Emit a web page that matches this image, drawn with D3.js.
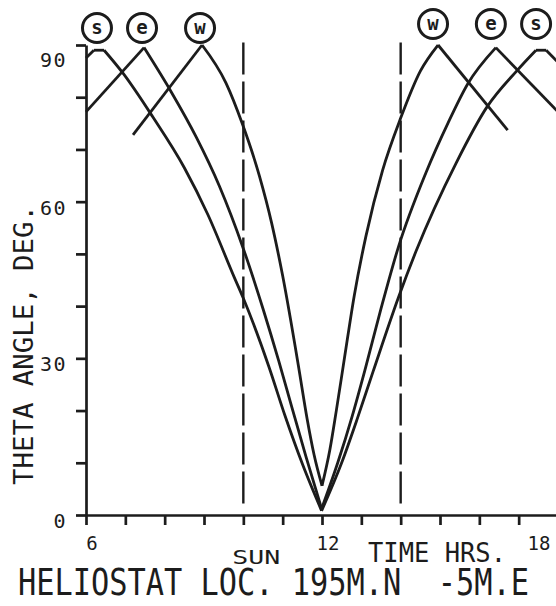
<!DOCTYPE html>
<html>
<head>
<meta charset="utf-8">
<script src="https://cdn.jsdelivr.net/npm/d3@7"></script>
<style>
  body { margin: 0; background: #ffffff; }
  svg { display: block; }
  text { font-family: "DejaVu Sans Mono", "Liberation Mono", monospace; fill: #1c1c1c; white-space: pre; }
</style>
</head>
<body>
<svg id="chart" width="556" height="606"></svg>
<script>
// Heliostat incidence angle (deg) against solar time (hours), [hour, theta]
const summer = [
  [6.0, 87.5], [6.2, 89], [6.46, 89], [6.94, 84.6], [7.70, 76.2], [8.5, 66.5],
  [9.10, 57.5], [9.77, 45.5], [10.0, 41.5], [10.65, 28.4], [11.06, 19], [11.5, 9.8],
  [11.99, 0.8], [12.5, 10], [12.9, 18.5], [13.3, 27.5], [13.95, 41.8], [14.39, 50.5],
  [15.41, 67.4], [16.2, 78.2], [16.97, 85.2], [17.44, 89], [17.70, 89], [18.0, 86.7]
];
const equinox = [
  [6.0, 77.2], [7.475, 89.5], [8.16, 81.1], [8.80, 72.4], [9.39, 63], [10.0, 51],
  [10.5, 39.5], [10.9, 29.5], [11.22, 21], [11.6, 11], [11.99, 1.2], [12.4, 10],
  [12.77, 19], [13.1, 28], [13.5, 39.5], [13.95, 51.5], [14.64, 65.5], [15.2, 75],
  [15.70, 82.5], [16.42, 89.5], [18.0, 77.2]
];
const winter = [
  [7.195, 72.8], [8.95, 90], [9.56, 82.7], [9.97, 75], [10.41, 64.9], [10.72, 55.9],
  [11.0, 45.8], [11.40, 28.6], [11.62, 18.5], [11.8, 11.5], [12.0, 5.6], [12.2, 12.5],
  [12.36, 19.8], [12.57, 30], [12.82, 42], [13.12, 53.5], [13.54, 66], [14.0, 76],
  [14.5, 85], [14.95, 90], [16.72, 73.7]
];
const seasonKeys = ["s", "e", "w"];
const seasonCurves = [summer, equinox, winter];

const sunHours = [10, 14];          // dashed time markers
const yTickLabels = [0, 30, 60, 90];
const xTickLabels = [6, 12, 18];
const yTitle = "THETA ANGLE, DEG.";
const timeLabel = "TIME HRS.";
const sunLabel = "SUN";
const locLabel = "HELIOSTAT LOC. 195M.N  -5M.E";

const W = 556, H = 606;
const ink = "#1c1c1c";
const svg = d3.select("#chart");

const x = d3.scaleLinear().domain([6, 18]).range([86, 558]);
const y = d3.scaleLinear().domain([0, 90]).range([515, 45]);

// axes
const yAxis = d3.axisLeft(y).tickValues(d3.range(0, 91, 10)).tickSize(10).tickSizeOuter(0).tickFormat("");
const xAxis = d3.axisBottom(x).tickValues(d3.range(6, 18.01, 1)).tickSize(10).tickSizeOuter(0).tickFormat("");

function styleAxis(g) {
  g.selectAll("path, line").attr("stroke", ink).attr("stroke-width", 2.7);
}
svg.append("g").attr("transform", `translate(${x(6)},0)`).call(yAxis).call(styleAxis);
svg.append("g").attr("transform", `translate(0,${y(0)})`).call(xAxis).call(styleAxis);

// y tick labels
svg.append("g").selectAll("text").data(yTickLabels).join("text")
  .attr("x", 67)
  .attr("y", d => Math.max(y(d) + 13, 67))
  .attr("text-anchor", "end")
  .attr("font-size", 20)
  .attr("letter-spacing", 1.5)
  .text(d => d);

// x tick labels
svg.append("g").selectAll("text").data(xTickLabels).join("text")
  .attr("x", d => Math.min(x(d) + 6, W - 17))
  .attr("y", 550)
  .attr("text-anchor", "middle")
  .attr("font-size", 19)
  .text(d => d);

// dashed markers
svg.append("g").selectAll("line").data(sunHours).join("line")
  .attr("x1", d => x(d)).attr("x2", d => x(d))
  .attr("y1", y(90.5)).attr("y2", y(2))
  .attr("stroke", ink).attr("stroke-width", 2.4)
  .attr("stroke-dasharray", "32,7");

// split each curve into monotone runs so peaks and the noon minimum stay sharp
function runs(pts) {
  const out = [];
  let cur = [pts[0]], dir = null;
  for (let i = 1; i < pts.length; i++) {
    const d = Math.sign(pts[i][1] - pts[i - 1][1]);
    if (dir === null || d === dir) { cur.push(pts[i]); dir = d; }
    else { out.push(cur); cur = [pts[i - 1], pts[i]]; dir = d; }
  }
  out.push(cur);
  return out;
}
const line = d3.line().x(d => x(d[0])).y(d => y(d[1])).curve(d3.curveMonotoneX);

const curveG = svg.append("g");
seasonCurves.forEach(pts => {
  curveG.selectAll(null).data(runs(pts)).join("path")
    .attr("d", line)
    .attr("fill", "none")
    .attr("stroke", ink)
    .attr("stroke-width", 2.8)
    .attr("stroke-linejoin", "miter");
});

// circled season tags above each peak
const tagG = svg.append("g");
seasonCurves.forEach((pts, i) => {
  [pts.filter(p => p[0] < 12), pts.filter(p => p[0] > 12)].forEach((side, j) => {
    const top = d3.max(side, p => p[1]);
    const peak = side.filter(p => top - p[1] < 0.5);
    const h = d3.mean(peak, p => p[0]);
    const cx = x(h) + (j === 0 ? -2 : -5);
    const cy = j === 0 ? 28 : 24;
    tagG.append("circle").attr("cx", cx).attr("cy", cy).attr("r", 14.5)
      .attr("fill", "#fff").attr("stroke", ink).attr("stroke-width", 3);
    tagG.append("text").attr("x", cx).attr("y", cy + 6)
      .attr("text-anchor", "middle").attr("font-size", 19).attr("font-weight", "bold")
      .text(seasonKeys[i]);
  });
});

// titles
svg.append("text")
  .attr("transform", "translate(33,485) rotate(-90)")
  .attr("font-size", 27)
  .attr("textLength", 280).attr("lengthAdjust", "spacingAndGlyphs")
  .text(yTitle);

svg.append("text")
  .attr("x", x(10) - 11).attr("y", 564)
  .attr("font-size", 19)
  .attr("textLength", 48).attr("lengthAdjust", "spacingAndGlyphs")
  .text(sunLabel);

svg.append("text")
  .attr("x", 368).attr("y", 562)
  .attr("font-size", 26)
  .attr("textLength", 138).attr("lengthAdjust", "spacingAndGlyphs")
  .text(timeLabel);

svg.append("text")
  .attr("transform", "translate(18,595) scale(1,1.25)")
  .attr("xml:space", "preserve")
  .attr("font-size", 30)
  .attr("textLength", 511).attr("lengthAdjust", "spacingAndGlyphs")
  .text(locLabel);
</script>
</body>
</html>
